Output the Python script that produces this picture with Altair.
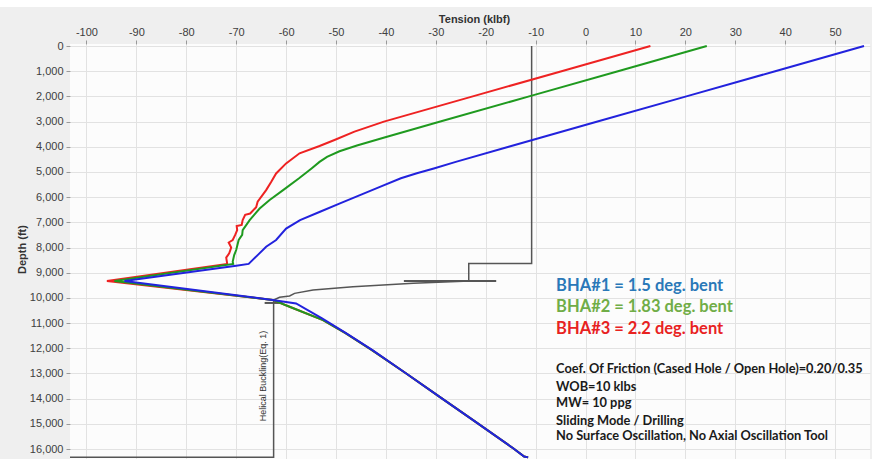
import altair as alt
import pandas as pd

# Tension (klbf) vs measured depth (ft) for the three bent-housing BHAs
bha1_depth = [0, 1000, 2000, 3000, 4000, 4600, 4860, 5050, 5250, 5590, 5920, 6250, 6580,
              6910, 7250, 7700, 7970, 8300, 8650, 8720, 9330, 10080, 10220, 10810, 11400,
              12070, 12990, 13920, 14840, 15970, 16300, 16330]
bha1_tension = [55.8, 38.0, 20.2, 2.4, -15.4, -26.0, -30.4, -33.8, -37.0, -41.2, -45.2,
                -49.2, -53.2, -57.2, -60.0, -62.0, -64.0, -65.7, -67.5, -70.0, -92.4, -62.7,
                -58.0, -52.8, -48.0, -42.7, -36.0, -29.3, -22.6, -14.5, -12.3, -11.5]

bha2_depth = [0, 1000, 2000, 3000, 3630, 3950, 4180, 4400, 4600, 4860, 5250, 5720, 6110,
              6450, 6910, 7310, 7500, 7700, 8100, 8300, 8560, 8650, 9330, 10080, 10350,
              10880, 11400, 12070, 12990, 13920, 14840, 15970, 16300, 16330]
bha2_tension = [24.3, 6.5, -11.3, -29.1, -40.3, -45.8, -49.3, -51.8, -53.3, -54.9, -57.4,
                -60.6, -63.3, -65.3, -67.3, -68.7, -68.8, -69.5, -70.0, -70.4, -70.7, -70.6,
                -94.4, -62.7, -59.3, -52.6, -48.1, -42.8, -36.0, -29.3, -22.6, -14.5, -12.3,
                -11.5]

bha3_depth = [0, 1000, 2000, 3000, 3400, 3730, 3970, 4260, 4660, 5060, 5400, 5720, 6180,
              6400, 6650, 6700, 6910, 7100, 7150, 7310, 7500, 7700, 7800, 8000, 8230, 8400,
              8650, 9330, 10080, 10350, 10880, 11400, 12070, 12990, 13920, 14840, 15970,
              16300, 16330]
bha3_tension = [13.0, -4.8, -22.6, -40.4, -46.3, -50.3, -53.3, -57.3, -60.0, -62.0, -63.0,
                -64.0, -65.7, -66.0, -67.2, -68.2, -68.7, -68.9, -69.9, -69.8, -70.2, -70.7,
                -71.5, -71.0, -71.4, -72.0, -71.8, -95.9, -62.7, -59.3, -52.6, -48.1, -42.8,
                -36.0, -29.3, -22.6, -14.5, -12.3, -11.5]

# Helical buckling limit (Eq. 1)
buckling_depth = [0, 8630, 8630, 9330, 9420, 9555, 9690, 9820, 9925, 9975, 10085, 16330, 16330]
buckling_tension = [-10.8, -10.8, -23.4, -23.4, -34.5, -46.6, -54.6, -58.3, -59.3, -61.3,
                    -62.5, -62.5, -103.3]
buckling_steps = {"t1": [-36.4, -64.3], "t2": [-17.9, -60.7], "d": [9330, 10200]}

series_names = ["BHA#3", "BHA#2", "BHA#1"]
series_colors = ["#ee2222", "#1f9a1f", "#2222dd"]

legend_lines = ["BHA#1 = 1.5 deg. bent", "BHA#2 = 1.83 deg. bent", "BHA#3 = 2.2 deg. bent"]
legend_colors = ["#2a78b8", "#70ad47", "#e8221f"]
legend_depth = [9520, 10350, 11230]

note_lines = ["Coef. Of Friction (Cased Hole / Open Hole)=0.20/0.35", "WOB=10 klbs",
              "MW= 10 ppg", "Sliding Mode / Drilling",
              "No Surface Oscillation, No Axial Oscillation Tool"]
note_depth = [12830, 13520, 14180, 14870, 15500]
text_tension = -5.9

x_ticks = list(range(-100, 51, 10))
y_ticks = list(range(0, 16001, 1000))
x_domain = [-103.3, 57.0]
y_domain = [-80, 16395]

x_scale = alt.Scale(domain=x_domain, nice=False, zero=False)
y_scale = alt.Scale(domain=y_domain, nice=False, zero=False, reverse=True)

x_axis = alt.Axis(orient="top", values=x_ticks, labelExpr="datum.value", grid=True,
                  gridColor="#e2e2e2", domain=False, tickColor="#999999", tickSize=4,
                  labelFont="Liberation Sans", labelFontSize=11, labelColor="#404040",
                  labelPadding=3, title="Tension  (klbf)", titleFont="Liberation Sans",
                  titleFontSize=11, titleFontWeight="bold", titleColor="#333333",
                  titleX=404, titleY=-25, titleAlign="center", titleBaseline="middle")
y_axis = alt.Axis(orient="left", values=y_ticks, format=",.0f", grid=True,
                  gridColor="#e2e2e2", domain=False, tickColor="#999999", tickSize=4,
                  labelFont="Liberation Sans", labelFontSize=11, labelColor="#404040",
                  labelPadding=3, title="Depth  (ft)", titleFont="Liberation Sans",
                  titleFontSize=11, titleFontWeight="bold", titleColor="#333333",
                  titleAngle=270, titleX=-48, titleY=205, titleAlign="center",
                  titleBaseline="middle")


def pos(xf, yf):
    return dict(x=alt.X(xf, scale=x_scale, axis=x_axis),
                y=alt.Y(yf, scale=y_scale, axis=y_axis))


def curve_frame(name, depth, tension):
    return pd.DataFrame({"series": name, "idx": range(len(depth)),
                         "depth": depth, "tension": tension})


curves = {
    "BHA#1": curve_frame("BHA#1", bha1_depth, bha1_tension),
    "BHA#2": curve_frame("BHA#2", bha2_depth, bha2_tension),
    "BHA#3": curve_frame("BHA#3", bha3_depth, bha3_tension),
}
color_scale = alt.Scale(domain=series_names, range=series_colors)

layers = []

# white band along the very top of the canvas
band = pd.DataFrame({"k": [0]})
layers.append(alt.Chart(band).mark_rect(color="white", clip=False).encode(
    x=alt.value(-70), x2=alt.value(802), y=alt.value(-44), y2=alt.value(-37)))

buck = pd.DataFrame({"idx": range(len(buckling_depth)), "depth": buckling_depth,
                     "tension": buckling_tension})
layers.append(alt.Chart(buck).mark_line(color="#555555", strokeWidth=1.5, clip=True).encode(
    order="idx:Q", **pos("tension:Q", "depth:Q")))

steps = pd.DataFrame(buckling_steps)
layers.append(alt.Chart(steps).mark_rule(color="#555555", strokeWidth=2, clip=True).encode(
    x2="t2:Q", **pos("t1:Q", "d:Q")))

for name in series_names:
    layers.append(alt.Chart(curves[name]).mark_line(strokeWidth=2, clip=True).encode(
        color=alt.Color("series:N", scale=color_scale, legend=None),
        order="idx:Q", **pos("tension:Q", "depth:Q")))

label = pd.DataFrame({"t": [-64.6], "d": [13100], "txt": ["Helical Buckling(Eq. 1)"]})
layers.append(alt.Chart(label).mark_text(angle=270, font="Liberation Sans", fontSize=9,
                                          color="#333333", align="center",
                                          baseline="middle").encode(
    text="txt:N", **pos("t:Q", "d:Q")))

legend_df = pd.DataFrame({"t": text_tension, "d": legend_depth, "txt": legend_lines,
                          "c": legend_colors})
layers.append(alt.Chart(legend_df).mark_text(font="Lato", fontSize=16.5, fontWeight="bold",
                                              align="left", baseline="middle").encode(
    text="txt:N", color=alt.Color("c:N", scale=None), **pos("t:Q", "d:Q")))

notes_df = pd.DataFrame({"t": text_tension, "d": note_depth, "txt": note_lines})
layers.append(alt.Chart(notes_df).mark_text(font="Lato", fontSize=12.8, fontWeight="bold",
                                             color="#1a1a1a", align="left",
                                             baseline="middle").encode(
    text="txt:N", **pos("t:Q", "d:Q")))

chart = alt.layer(*layers).properties(
    width=800, height=415,
    autosize=alt.AutoSizeParams(type="none"),
    padding={"left": 70, "top": 44, "right": 2, "bottom": 0},
    background="#efefef",
).configure_view(fill="#fcfcfc", stroke=None)

chart.save("out.html", embed_options={"renderer": "svg", "actions": False})
